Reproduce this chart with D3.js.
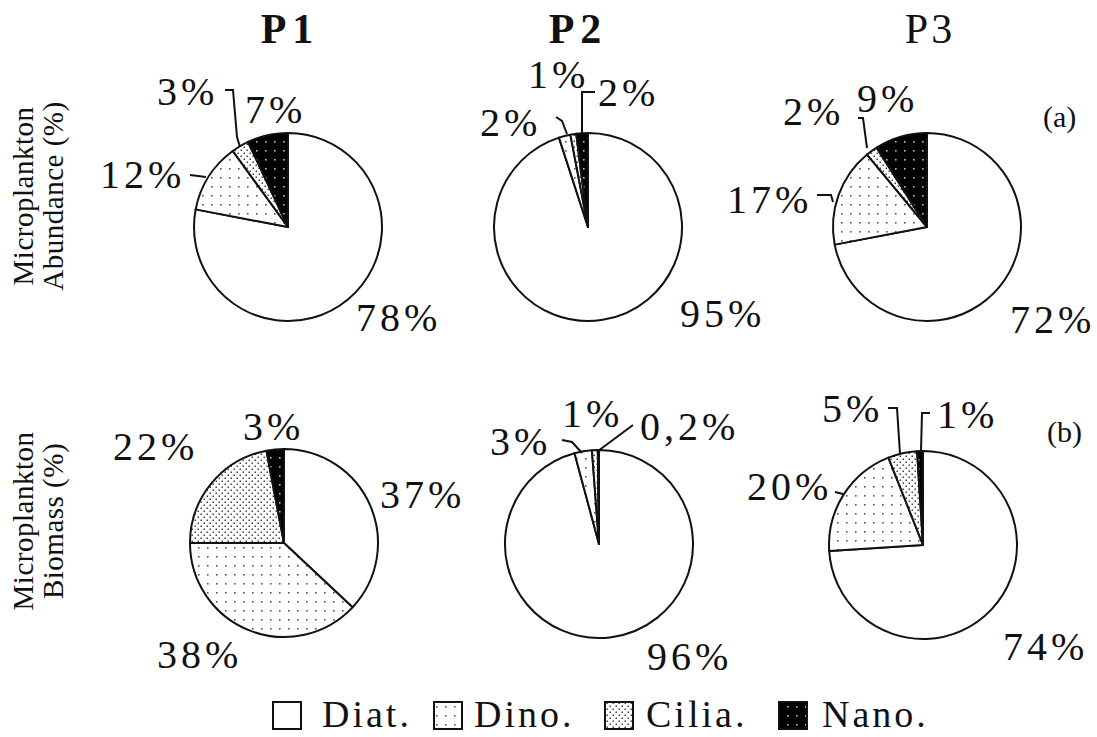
<!DOCTYPE html>
<html><head><meta charset="utf-8">
<script src="https://cdn.jsdelivr.net/npm/d3@7"></script>
<style>
html,body{margin:0;padding:0;background:#fff;}
svg{display:block;}
text{font-family:"Liberation Serif","Times New Roman",serif;fill:#111;}
</style></head>
<body>
<svg id="chart" width="1097" height="737"></svg>
<script>
// ---------- data ----------
const categories = ["Diat.", "Dino.", "Cilia.", "Nano."];
const stations = ["P1", "P2", "P3"];
const rowLabels = [["Microplankton", "Abundance (%)"], ["Microplankton", "Biomass (%)"]];
const panelTags = ["(a)", "(b)"];
const abundanceP1 = [78, 12, 3, 7];
const abundanceP2 = [95, 2, 1, 2];
const abundanceP3 = [72, 17, 2, 9];
const biomassP1 = [37, 38, 22, 3];
const biomassP2 = [96, 3, 1, 0.2];
const biomassP3 = [74, 20, 5, 1];
const rows = [[abundanceP1, abundanceP2, abundanceP3], [biomassP1, biomassP2, biomassP3]];

// ---------- layout (positions only) ----------
const colX = [[288, 588, 927], [284, 599, 923]];
const rowY = [[227, 227, 227], [543, 544, 545]];
const R = 94;
// label offsets (text start x, baseline y) relative to pie centre, per slice
const labelPos = [
  [ [[68,104],[-188,-39],[-131,-122],[-43,-104]],
    [[92,100],[-108,-91],[-60,-139],[10,-121]],
    [[83,106],[-200,-14],[-144,-102],[-70,-115]] ],
  [ [[96,-35],[-127,125],[-171,-83],[-41,-103]],
    [[48,126],[-109,-89],[-37,-117],[41,-104]],
    [[80,115],[-176,-45],[-101,-123],[14,-117]] ]
];
// leader lines relative to pie centre
const leaders = [
  [ [ [[-63,-137],[-55,-137],[-51,-90],[-48,-80]], [[-98,-52],[-82,-50]] ],
    [ [[7,-135],[-6,-135],[-6,-94]], [[-32,-110],[-26,-106],[-21,-93]] ],
    [ [[-110,-32],[-96,-32],[-94,-25]], [[-69,-109],[-64,-109],[-60,-79]] ] ],
  [ [],
    [ [[34,-119],[-1,-93]], [[-37,-104],[-27,-102],[-17,-91]] ],
    [ [[-35,-137],[-26,-137],[-23,-91]], [[7,-132],[-1,-132],[-2,-94]], [[-88,-53],[-80,-51]] ] ]
];
const legendBoxX = [273, 434, 605, 779];
const legendTextX = [322, 474, 646, 822];

const svg = d3.select("#chart");
const defs = svg.append("defs");

// patterns
function dotPattern(id, size, bg, dot, pts, r) {
  const p = defs.append("pattern").attr("id", id).attr("patternUnits", "userSpaceOnUse")
    .attr("width", size).attr("height", size);
  p.append("rect").attr("width", size).attr("height", size).attr("fill", bg);
  pts.forEach(([x, y]) => p.append("rect").attr("x", x).attr("y", y).attr("width", r).attr("height", r).attr("fill", dot));
}
dotPattern("pDino", 9, "#fff", "#555", [[4, 4]], 1.6);
dotPattern("pCilia", 6, "#fff", "#444", [[0.5, 0.5], [3.5, 3.5]], 1.5);
dotPattern("pNano", 9, "#000", "#bbb", [[4, 4]], 1.6);
const fills = d3.scaleOrdinal().domain(categories)
  .range(["#fff", "url(#pDino)", "url(#pCilia)", "url(#pNano)"]);

const pie = d3.pie().sort(null).value(d => d);
const arc = d3.arc().innerRadius(0).outerRadius(R);
const fmt = v => String(v).replace(".", ",") + "%";

rows.forEach((row, ri) => {
  row.forEach((vals, ci) => {
    const cx = colX[ri][ci], cy = rowY[ri][ci];
    const g = svg.append("g").attr("transform", `translate(${cx},${cy})`);
    const arcs = pie(vals);
    g.selectAll("path.slice").data(arcs).join("path").attr("class", "slice")
      .attr("d", arc)
      .attr("fill", (d, i) => fills(categories[i]))
      .attr("stroke", "#111").attr("stroke-width", 2).attr("stroke-linejoin", "round");
    g.selectAll("polyline").data(leaders[ri][ci]).join("polyline")
      .attr("points", d => d.map(p => p.join(",")).join(" "))
      .attr("fill", "none").attr("stroke", "#111").attr("stroke-width", 2);
    g.selectAll("text.lbl").data(vals).join("text").attr("class", "lbl")
      .attr("x", (d, i) => labelPos[ri][ci][i][0])
      .attr("y", (d, i) => labelPos[ri][ci][i][1])
      .attr("font-size", 40).attr("letter-spacing", 4)
      .text(d => fmt(d));
  });
});

// column titles
const titleX = [290, 578, 930];
svg.selectAll("text.title").data(stations).join("text").attr("class", "title")
  .attr("x", (d, i) => titleX[i]).attr("y", 43)
  .attr("text-anchor", "middle").attr("font-size", 42)
  .attr("font-weight", (d, i) => i < 2 ? "bold" : "normal")
  .attr("letter-spacing", (d, i) => i < 2 ? 6 : 3)
  .text(d => d);

// row labels
const rowLabelY = [196, 521];
const rowLineX = [33, 63];
rowLabels.forEach((lines, ri) => {
  lines.forEach((t, li) => {
    svg.append("text")
      .attr("transform", `translate(${rowLineX[li]},${rowLabelY[ri]}) rotate(-90)`)
      .attr("text-anchor", "middle").attr("font-size", 29).attr("letter-spacing", 0.5)
      .text(t);
  });
});

// panel tags
const tagPos = [[1043, 127], [1047, 442]];
svg.selectAll("text.tag").data(panelTags).join("text").attr("class", "tag")
  .attr("x", (d, i) => tagPos[i][0]).attr("y", (d, i) => tagPos[i][1])
  .attr("font-size", 30).text(d => d);

// legend
const lg = svg.append("g");
categories.forEach((c, i) => {
  lg.append("rect").attr("x", legendBoxX[i]).attr("y", 702).attr("width", 28).attr("height", 27)
    .attr("fill", fills(c)).attr("stroke", "#111").attr("stroke-width", 2);
  lg.append("text").attr("x", legendTextX[i]).attr("y", 727)
    .attr("font-size", 38).attr("letter-spacing", 3).text(c);
});
</script>
</body></html>
